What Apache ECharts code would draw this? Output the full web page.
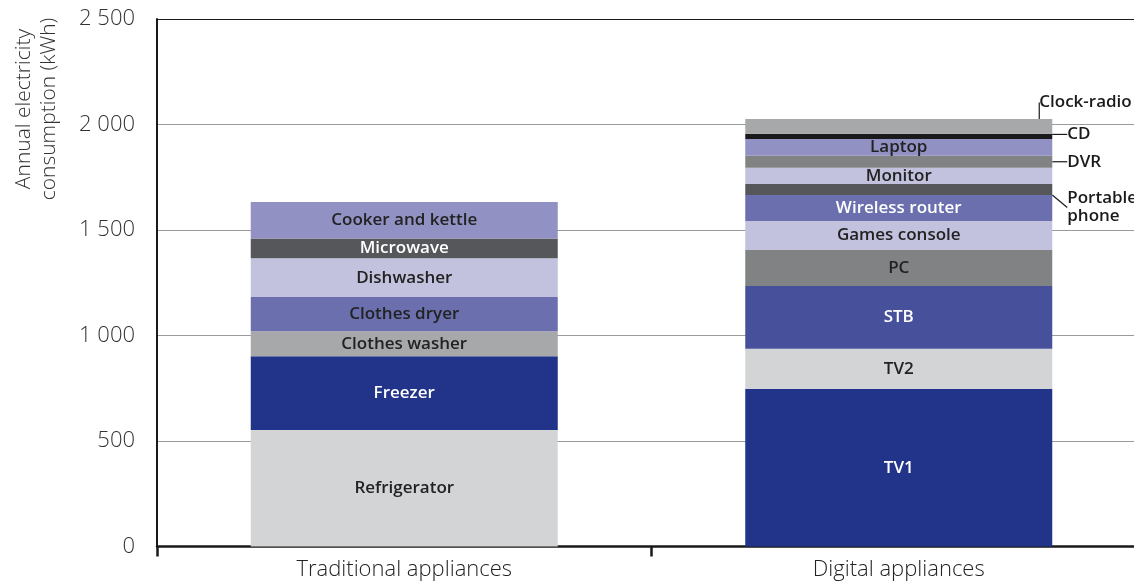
<!DOCTYPE html>
<html>
<head>
<meta charset="utf-8">
<script src="https://cdn.jsdelivr.net/npm/echarts@6/dist/echarts.min.js"></script>
<style>
    html, body { margin: 0; padding: 0; background: #fff; overflow: hidden; }
    /* plot runs a little past the right edge of the window, as in the source figure */
    #main { width: 1146px; height: 584px; }
</style>
</head>
<body>
<div id="main"></div>
<script>
// categories and values (kWh per year)
var categories = ['Traditional appliances', 'Digital appliances'];
var yTicks = [0, 500, 1000, 1500, 2000, 2500];

var tradNames = ['Refrigerator', 'Freezer', 'Clothes washer', 'Clothes dryer', 'Dishwasher', 'Microwave', 'Cooker and kettle'];
var tradValues = [552, 350, 118, 162, 184, 94, 173];

var digiNames = ['TV1', 'TV2', 'STB', 'PC', 'Games console', 'Wireless router', 'Portable phone', 'Monitor', 'DVR', 'Laptop', 'CD', 'Clock-radio'];
var digiValues = [746, 191, 298, 170, 138, 123, 52, 77, 57, 79, 25, 70];

// styles
var colors = {
    'Refrigerator': '#d3d4d6', 'Freezer': '#21348a', 'Clothes washer': '#a7a8aa',
    'Clothes dryer': '#6b6fae', 'Dishwasher': '#c2c2de', 'Microwave': '#56575b',
    'Cooker and kettle': '#9191c3',
    'TV1': '#21348a', 'TV2': '#d3d4d6', 'STB': '#47509b', 'PC': '#818284',
    'Games console': '#c2c2de', 'Wireless router': '#6b6fae', 'Portable phone': '#56575b',
    'Monitor': '#c2c2de', 'DVR': '#818284', 'Laptop': '#9191c3', 'CD': '#1a1a1a',
    'Clock-radio': '#a7a8aa'
};
var whiteText = ['Freezer', 'Microwave', 'STB', 'TV1', 'Wireless router'];
// labels placed outside the bar, with a small leader line
var outside = {
    'Clock-radio': { dx: -28, dy: -24, text: 'Clock-radio' },
    'CD': { dx: 0, dy: -2, text: 'CD' },
    'DVR': { dx: 0, dy: 0, text: 'DVR' },
    'Portable phone': { dx: 0, dy: 18, text: 'Portable\nphone' }
};

var labelFont = '"Open Sans", Lato, sans-serif';

function makeSeries (name, value, idx) {
    var data = idx === 0 ? [value, '-'] : ['-', value];
    var s = {
        name: name,
        type: 'bar',
        stack: 'total',
        barWidth: 307,
        data: data,
        itemStyle: { color: colors[name] },
        label: {
            show: true,
            position: 'inside',
            formatter: name,
            color: whiteText.indexOf(name) >= 0 ? '#ffffff' : '#222222',
            fontFamily: labelFont,
            fontWeight: 600,
            fontSize: 17
        },
        emphasis: { disabled: true }
    };
    var o = outside[name];
    if (o) {
        s.label.position = 'right';
        s.label.distance = 15;
        s.label.formatter = o.text;
        s.label.color = '#1a1a1a';
        s.label.lineHeight = 18;
        s.label.align = 'left';
        s.labelLayout = { dx: o.dx, dy: o.dy };
        s.labelLine = { show: true, lineStyle: { color: '#1a1a1a', width: 1.2 } };
    }
    return s;
}

var series = [];
tradNames.forEach(function (n, i) { series.push(makeSeries(n, tradValues[i], 0)); });
digiNames.forEach(function (n, i) { series.push(makeSeries(n, digiValues[i], 1)); });

var myChart = echarts.init(document.getElementById('main'));
myChart.setOption({
    animation: false,
    backgroundColor: '#ffffff',
    grid: { left: 157, right: 0, top: 19, bottom: 37.5 },
    xAxis: {
        type: 'category',
        data: categories,
        axisLine: { lineStyle: { color: '#1a1a1a', width: 2.5 } },
        axisTick: { show: true, length: 10, lineStyle: { color: '#1a1a1a', width: 2.5 } },
        axisLabel: { color: '#222', fontSize: 22, fontFamily: labelFont, fontWeight: 300, margin: 12 }
    },
    yAxis: {
        type: 'value',
        min: yTicks[0],
        max: yTicks[yTicks.length - 1],
        interval: 500,
        axisLine: { show: true, lineStyle: { color: '#1a1a1a', width: 2 } },
        axisTick: { show: false },
        splitLine: {
            lineStyle: {
                color: ['#9a9a9a', '#9a9a9a', '#9a9a9a', '#9a9a9a', '#9a9a9a', '#1a1a1a'],
                width: 1.2
            }
        },
        axisLabel: {
            color: '#333',
            fontSize: 22,
            fontFamily: labelFont,
            fontWeight: 300,
            margin: 22,
            formatter: function (v) {
                return String(v).replace(/\B(?=(\d{3})+(?!\d))/g, ' ');
            }
        }
    },
    graphic: [{
        type: 'text',
        x: 37,
        y: 109,
        rotation: Math.PI / 2,
        style: {
            text: 'Annual electricity\nconsumption (kWh)',
            font: '300 21px "Open Sans", sans-serif',
            fill: '#333',
            align: 'center',
            verticalAlign: 'middle',
            lineHeight: 25
        }
    }],
    series: series
});
</script>
</body>
</html>
